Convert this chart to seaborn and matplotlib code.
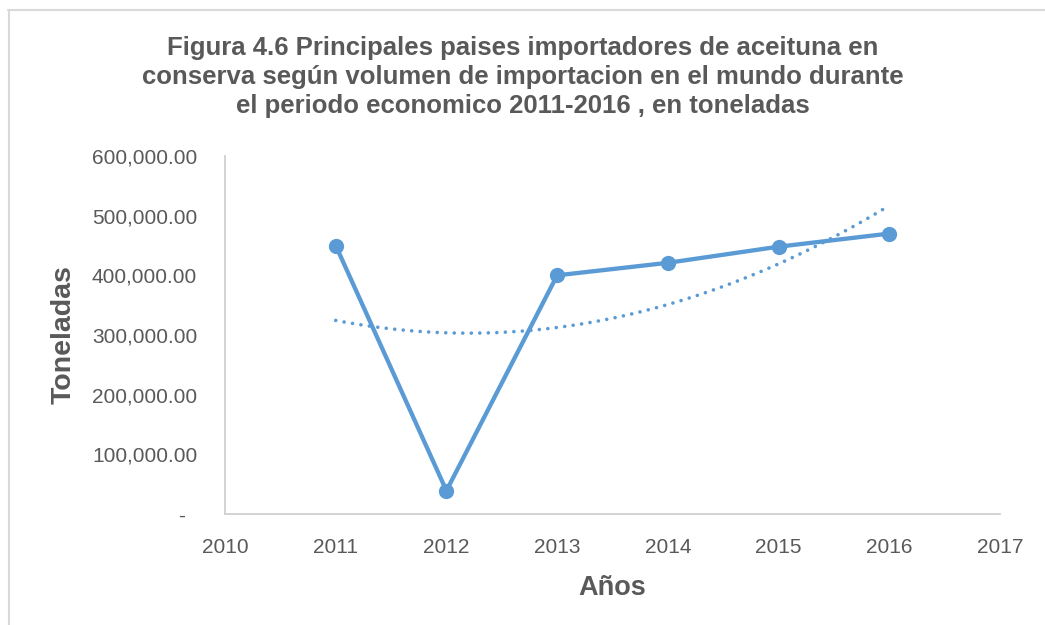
import matplotlib
matplotlib.use("Agg")
import matplotlib.pyplot as plt
import matplotlib.ticker as mticker
from matplotlib.lines import Line2D
import seaborn as sns
import pandas as pd

years = [2011, 2012, 2013, 2014, 2015, 2016]
toneladas = [450000, 39000, 400000, 421000, 448000, 470000]

title = ("Figura 4.6 Principales paises importadores de aceituna en\n"
         "conserva según volumen de importacion en el mundo durante\n"
         "el periodo economico 2011-2016 , en toneladas")
xlabel = "Años"
ylabel = "Toneladas"

df = pd.DataFrame({"year": years, "ton": toneladas})

sns.set_theme(style="white")
plt.rcParams["font.family"] = ["Liberation Sans", "DejaVu Sans"]

blue = "#5B9BD5"
gray_text = "#595959"

fig = plt.figure(figsize=(10.45, 6.25), dpi=100)
ax = fig.add_axes([225 / 1045, 1 - 514 / 625, 775 / 1045, 358 / 625])

sns.lineplot(data=df, x="year", y="ton", ax=ax, color=blue, linewidth=3.1,
             marker="o", markersize=11, markeredgewidth=0, markeredgecolor=blue)
sns.regplot(data=df, x="year", y="ton", ax=ax, order=2, ci=None, scatter=False,
            truncate=True,
            line_kws=dict(color=blue, linewidth=2.6, dashes=(0.01, 2.35),
                          dash_capstyle="round"))

ax.set_xlim(2010, 2017)
ax.set_ylim(0, 600000)
ax.set_xticks(range(2010, 2018))
ax.set_yticks(range(0, 600001, 100000))


def yfmt(v, pos):
    if v == 0:
        return "-  "
    return f"{v:,.2f}"


ax.yaxis.set_major_formatter(mticker.FuncFormatter(yfmt))
ax.tick_params(axis="both", length=0, labelsize=15, labelcolor=gray_text)
ax.tick_params(axis="y", pad=20)
ax.tick_params(axis="x", pad=17)

for s in ["top", "right"]:
    ax.spines[s].set_visible(False)
for s in ["left", "bottom"]:
    ax.spines[s].set_color("#D0D0D0")
    ax.spines[s].set_linewidth(1.3)

ax.set_xlabel(xlabel, fontsize=19.5, fontweight="bold", color=gray_text, labelpad=13)
ax.set_ylabel(ylabel, fontsize=20.5, fontweight="bold", color=gray_text, labelpad=11)
ax.grid(False)

fig.text(0.5, 1 - 77 / 625, title, ha="center", va="center", fontsize=18.5,
         fontweight="bold", color=gray_text, linespacing=1.26)

# chart area border (top and left edges visible)
fig.add_artist(Line2D([8 / 1045, 1.0], [1 - 10 / 625, 1 - 10 / 625],
                      transform=fig.transFigure, color="#D9D9D9", linewidth=1.5))
fig.add_artist(Line2D([9 / 1045, 9 / 1045], [0.0, 1 - 10 / 625],
                      transform=fig.transFigure, color="#D9D9D9", linewidth=1.5))

fig.savefig("out.png", dpi=100)
